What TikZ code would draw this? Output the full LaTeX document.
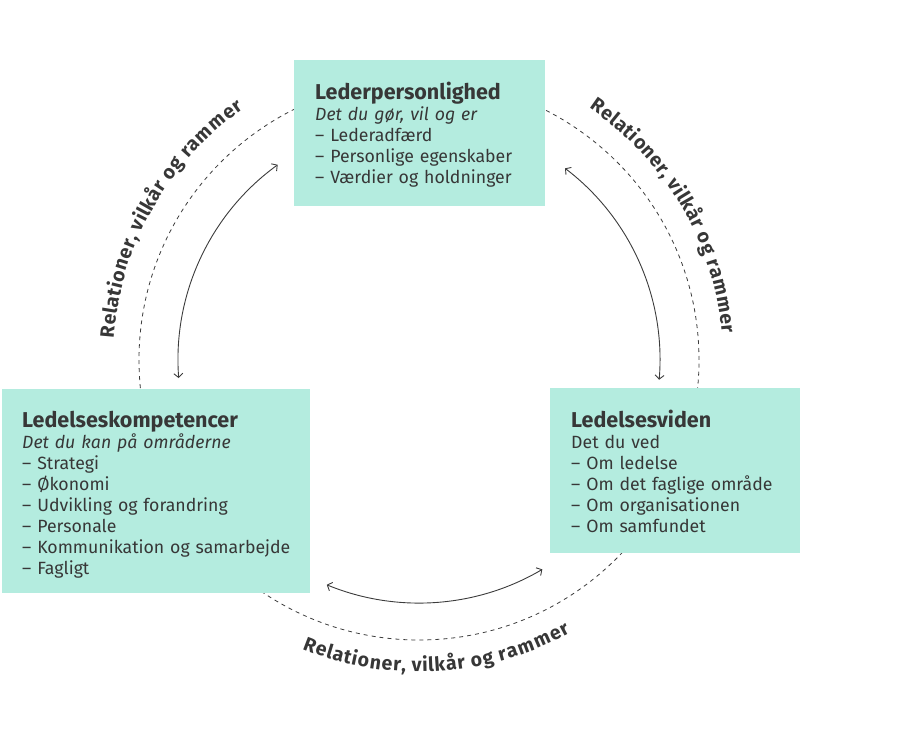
\documentclass[tikz,border=0pt]{standalone}
\usepackage{fontspec}
\setmainfont{Fira Sans}
\usetikzlibrary{calc,arrows.meta,decorations.text}
\definecolor{boxgreen}{RGB}{180,236,223}
\definecolor{textgray}{RGB}{55,55,55}
\definecolor{linegray}{RGB}{60,60,60}
\newcommand{\boxtitle}[1]{{\fontsize{21.5}{21}\selectfont\bfseries #1}}

\tikzset{
  box/.style={fill=boxgreen, draw=none, anchor=north west, inner sep=0pt},
  boxtext/.style={anchor=base west, inner sep=0pt, align=left, text=textgray, font=\fontsize{17.7}{21}\selectfont},
  ring/.style={draw=linegray, line width=0.8pt, dash pattern=on 4pt off 4pt},
  relation/.style={draw=linegray, line width=0.9pt, {Straight Barb[length=4pt,width=9pt]}-{Straight Barb[length=4pt,width=9pt]}},
  ringlabel/.style={decorate, decoration={text effects along path,
      text={Relationer, vilkår og rammer},
      text effects/.cd, text along path, fit text to path,
      characters={text=textgray, font=\fontsize{19.5}{19.5}\selectfont\bfseries}}}
}

\begin{document}
\begin{tikzpicture}[x=1pt,y=1pt]
  \useasboundingbox (0,0) rectangle (900,750);
  \coordinate (centre) at (419,390);

  \draw[ring] (centre) circle (280); % the dashed ring

  \node[box, minimum width=251pt, minimum height=146pt] (personlighed) at (294,690) {};
  \node[box, minimum width=308pt, minimum height=204pt] (kompetencer) at (2,361) {};
  \node[box, minimum width=250pt, minimum height=165pt] (viden) at (550,362) {};

  \node[boxtext, text width=225pt] (personlighedtext) at ($(personlighed.north west)+(21,-40)$)
    {\boxtitle{Lederpersonlighed}\\ \textit{Det du gør, vil og er}\\ – Lederadfærd\\ – Personlige egenskaber\\ – Værdier og holdninger};
  \node[boxtext, text width=285pt] (kompetencertext) at ($(kompetencer.north west)+(20,-39)$)
    {\boxtitle{Ledelseskompetencer}\\ \textit{Det du kan på områderne}\\ – Strategi\\ – Økonomi\\ – Udvikling og forandring\\ – Personale\\ – Kommunikation og samarbejde\\ – Fagligt};
  \node[boxtext, text width=225pt] (videntext) at ($(viden.north west)+(21,-40)$)
    {\boxtitle{Ledelsesviden}\\ Det du ved\\ – Om ledelse\\ – Om det faglige område\\ – Om organisationen\\ – Om samfundet};

  % arrows between the boxes
  \draw[relation] ($(centre)+(184.3:241)$) arc (184.3:125.9:241);
  \draw[relation] ($(centre)+(52.7:241)$) arc (52.7:-4.7:241);
  \draw[relation] ($(centre)+(247.7:243)$) arc (247.7:300.5:243);

  % labels round the ring
  \path[ringlabel] ($(centre)+(176:306)$) arc (176:125:306);
  \path[ringlabel] ($(centre)+(56:304)$) arc (56:5:304);
  \path[ringlabel] ($(centre)+(248:312)$) arc (248:299:312);
\end{tikzpicture}
\end{document}
